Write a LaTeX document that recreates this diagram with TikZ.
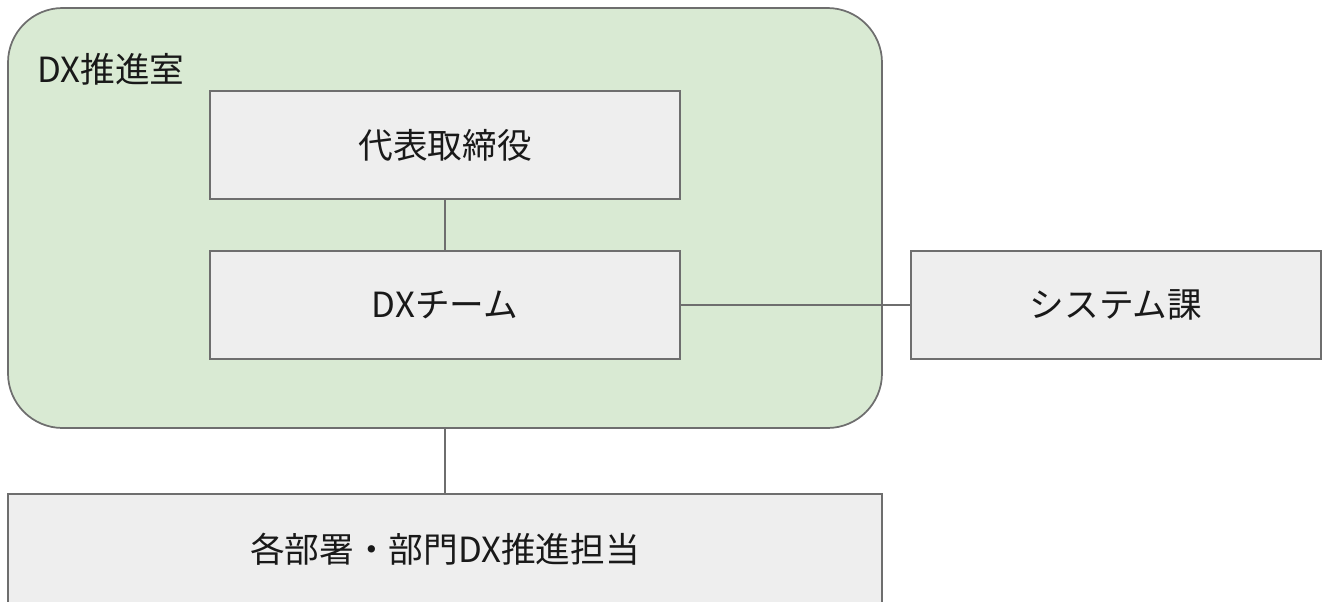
\documentclass[tikz,border=0pt]{standalone}
\usepackage{fontspec}
\setmainfont{Noto Sans CJK JP}
\definecolor{boxfill}{HTML}{EEEEEE}
\definecolor{grpfill}{HTML}{D9EAD3}
\definecolor{edge}{HTML}{6E6E6E}
\tikzset{
  orgbox/.style={draw=edge, line width=1.3pt, fill=boxfill, inner sep=0pt, font=\fontsize{26}{30}\selectfont, text=black!90},
  link/.style={draw=edge, line width=1.1pt},
}
\begin{document}
\begin{tikzpicture}[x=0.75pt,y=-0.75pt]
\useasboundingbox (0,0) rectangle (1326,601);
\begin{scope}
\clip (0,0) rectangle (1326,601);
\node[draw=edge, line width=1.3pt, fill=grpfill, rounded corners=41pt, minimum width=874*0.75pt, minimum height=420*0.75pt, inner sep=0pt] (grp) at (445,218) {};
\node[anchor=west, font=\fontsize{26}{30}\selectfont, text=black!90, inner sep=0pt] (grplbl) at (37,69) {DX推進室};
\node[orgbox, minimum width=470*0.75pt, minimum height=108*0.75pt] (ceo) at (445,145) {代表取締役};
\node[orgbox, minimum width=470*0.75pt, minimum height=108*0.75pt] (dx) at (445,305) {DXチーム};
\node[orgbox, minimum width=410*0.75pt, minimum height=108*0.75pt] (sys) at (1116,305) {システム課};
\node[orgbox, minimum width=874*0.75pt, minimum height=116*0.75pt] (dept) at (445,552) {};
\node[font=\fontsize{26}{30}\selectfont, text=black!90, inner sep=0pt] (deptlbl) at (445,549) {各部署・部門DX推進担当};
\draw[link] (ceo.south) -- (dx.north);
\draw[link] (dx.east) -- (sys.west);
\draw[link] (grp.south) -- (dept.north);
\end{scope}
\end{tikzpicture}
\end{document}
